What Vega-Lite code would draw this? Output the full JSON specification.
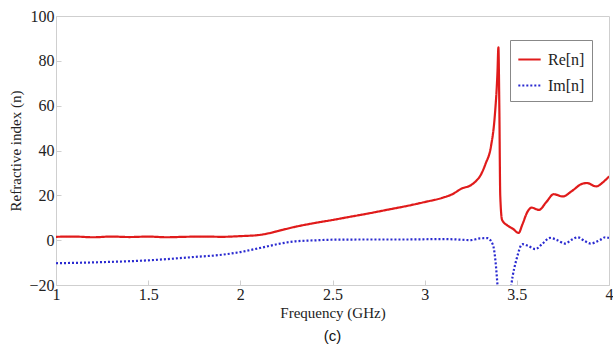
{
  "$schema": "https://vega.github.io/schema/vega-lite/v6.json",
  "width": 553,
  "height": 269,
  "autosize": {"type": "none"},
  "padding": {"left": 56, "top": 16, "right": 4, "bottom": 62},
  "background": "white",
  "title": {"text": "(c)", "orient": "bottom", "font": "Liberation Sans", "fontSize": 15, "fontWeight": "normal", "color": "#111", "offset": 9},
  "config": {
    "view": {"stroke": "#cfcfcf", "strokeWidth": 1},
    "axis": {"labelFont": "Times New Roman", "titleFont": "Times New Roman", "labelFontSize": 16, "titleFontSize": 15, "titleFontWeight": "normal", "labelColor": "#222", "titleColor": "#222", "grid": false, "domain": false, "tickColor": "#cfcfcf", "tickSize": -5},
    "legend": {"labelFont": "Times New Roman"}
  },
  "data": {"values": [
    {"f":1.0,"v":1.5,"s":"Re[n]"},{"f":1.1,"v":1.6,"s":"Re[n]"},{"f":1.2,"v":1.3,"s":"Re[n]"},{"f":1.3,"v":1.6,"s":"Re[n]"},{"f":1.4,"v":1.4,"s":"Re[n]"},{"f":1.5,"v":1.6,"s":"Re[n]"},{"f":1.6,"v":1.3,"s":"Re[n]"},{"f":1.7,"v":1.5,"s":"Re[n]"},{"f":1.8,"v":1.6,"s":"Re[n]"},{"f":1.9,"v":1.5,"s":"Re[n]"},{"f":2.0,"v":1.8,"s":"Re[n]"},{"f":2.1,"v":2.3,"s":"Re[n]"},{"f":2.15,"v":3.0,"s":"Re[n]"},{"f":2.2,"v":4.0,"s":"Re[n]"},{"f":2.3,"v":6.0,"s":"Re[n]"},{"f":2.4,"v":7.6,"s":"Re[n]"},{"f":2.5,"v":9.0,"s":"Re[n]"},{"f":2.6,"v":10.5,"s":"Re[n]"},{"f":2.7,"v":12.0,"s":"Re[n]"},{"f":2.8,"v":13.6,"s":"Re[n]"},{"f":2.9,"v":15.2,"s":"Re[n]"},{"f":3.0,"v":17.0,"s":"Re[n]"},{"f":3.1,"v":19.0,"s":"Re[n]"},{"f":3.15,"v":20.5,"s":"Re[n]"},{"f":3.2,"v":23.0,"s":"Re[n]"},{"f":3.25,"v":24.5,"s":"Re[n]"},{"f":3.28,"v":26.5,"s":"Re[n]"},{"f":3.3,"v":28.5,"s":"Re[n]"},{"f":3.33,"v":34,"s":"Re[n]"},{"f":3.36,"v":42,"s":"Re[n]"},{"f":3.38,"v":55,"s":"Re[n]"},{"f":3.395,"v":75,"s":"Re[n]"},{"f":3.4,"v":86,"s":"Re[n]"},{"f":3.405,"v":60,"s":"Re[n]"},{"f":3.41,"v":20,"s":"Re[n]"},{"f":3.42,"v":9,"s":"Re[n]"},{"f":3.45,"v":6.5,"s":"Re[n]"},{"f":3.48,"v":5,"s":"Re[n]"},{"f":3.51,"v":3.2,"s":"Re[n]"},{"f":3.53,"v":7,"s":"Re[n]"},{"f":3.56,"v":13,"s":"Re[n]"},{"f":3.58,"v":14.5,"s":"Re[n]"},{"f":3.62,"v":13.5,"s":"Re[n]"},{"f":3.66,"v":17,"s":"Re[n]"},{"f":3.7,"v":20.5,"s":"Re[n]"},{"f":3.75,"v":19.5,"s":"Re[n]"},{"f":3.8,"v":22,"s":"Re[n]"},{"f":3.85,"v":25,"s":"Re[n]"},{"f":3.88,"v":25.5,"s":"Re[n]"},{"f":3.93,"v":24,"s":"Re[n]"},{"f":3.97,"v":26,"s":"Re[n]"},{"f":4.0,"v":28.5,"s":"Re[n]"},
    {"f":1.0,"v":-10.3,"s":"Im[n]"},{"f":1.25,"v":-9.8,"s":"Im[n]"},{"f":1.5,"v":-9.0,"s":"Im[n]"},{"f":1.75,"v":-7.5,"s":"Im[n]"},{"f":1.9,"v":-6.5,"s":"Im[n]"},{"f":2.0,"v":-5.3,"s":"Im[n]"},{"f":2.1,"v":-3.6,"s":"Im[n]"},{"f":2.15,"v":-2.7,"s":"Im[n]"},{"f":2.2,"v":-1.8,"s":"Im[n]"},{"f":2.3,"v":-0.5,"s":"Im[n]"},{"f":2.4,"v":-0.1,"s":"Im[n]"},{"f":2.5,"v":0.2,"s":"Im[n]"},{"f":2.7,"v":0.3,"s":"Im[n]"},{"f":2.9,"v":0.3,"s":"Im[n]"},{"f":3.0,"v":0.4,"s":"Im[n]"},{"f":3.1,"v":0.5,"s":"Im[n]"},{"f":3.2,"v":0.2,"s":"Im[n]"},{"f":3.25,"v":0.0,"s":"Im[n]"},{"f":3.3,"v":0.8,"s":"Im[n]"},{"f":3.34,"v":0.9,"s":"Im[n]"},{"f":3.37,"v":-2,"s":"Im[n]"},{"f":3.385,"v":-10,"s":"Im[n]"},{"f":3.395,"v":-20,"s":"Im[n]"},{"f":3.41,"v":-35,"s":"Im[n]"},{"f":3.45,"v":-35,"s":"Im[n]"},{"f":3.47,"v":-20,"s":"Im[n]"},{"f":3.5,"v":-8,"s":"Im[n]"},{"f":3.53,"v":-1.8,"s":"Im[n]"},{"f":3.56,"v":-2.5,"s":"Im[n]"},{"f":3.6,"v":-4,"s":"Im[n]"},{"f":3.64,"v":-1.5,"s":"Im[n]"},{"f":3.68,"v":1.0,"s":"Im[n]"},{"f":3.72,"v":0,"s":"Im[n]"},{"f":3.76,"v":-1.5,"s":"Im[n]"},{"f":3.8,"v":0.3,"s":"Im[n]"},{"f":3.83,"v":1.3,"s":"Im[n]"},{"f":3.87,"v":-0.5,"s":"Im[n]"},{"f":3.9,"v":-1.5,"s":"Im[n]"},{"f":3.95,"v":0,"s":"Im[n]"},{"f":3.98,"v":1.3,"s":"Im[n]"},{"f":4.0,"v":1.0,"s":"Im[n]"}
  ]},
  "mark": {"type": "line", "clip": true, "strokeWidth": 2.2, "interpolate": "monotone"},
  "encoding": {
    "x": {"field": "f", "type": "quantitative", "title": "Frequency (GHz)", "scale": {"domain": [1, 4], "nice": false}, "axis": {"values": [1, 1.5, 2, 2.5, 3, 3.5, 4], "format": "~g", "labelPadding": 6, "titlePadding": 3, "labelFlush": false}},
    "y": {"field": "v", "type": "quantitative", "title": "Refractive index  (n)", "scale": {"domain": [-20, 100], "nice": false}, "axis": {"values": [-20, 0, 20, 40, 60, 80, 100], "labelPadding": 7, "titlePadding": 5}},
    "color": {"field": "s", "type": "nominal", "scale": {"domain": ["Re[n]", "Im[n]"], "range": ["#e01b1b", "#2a2ad0"]}, "legend": {"title": null, "orient": "none", "legendX": 454, "legendY": 24, "strokeColor": "#888", "padding": 7, "labelFontSize": 16, "labelColor": "#222", "symbolType": "stroke", "symbolSize": 500, "symbolStrokeWidth": 2, "rowPadding": 5, "labelOffset": 6}},
    "strokeDash": {"field": "s", "type": "nominal", "scale": {"domain": ["Re[n]", "Im[n]"], "range": [[1, 0], [2, 2]]}, "legend": null}
  }
}
